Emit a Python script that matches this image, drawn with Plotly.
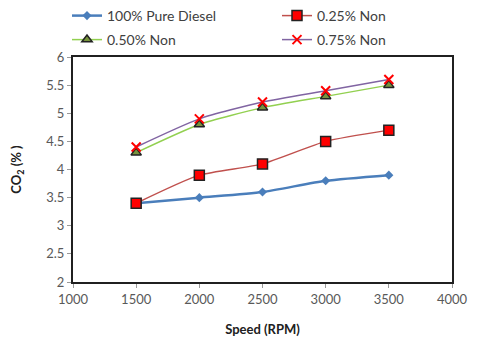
import plotly.graph_objects as go

speed = [1500, 2000, 2500, 3000, 3500]
diesel = [3.4, 3.5, 3.6, 3.8, 3.9]
non025 = [3.4, 3.9, 4.1, 4.5, 4.7]
non050 = [4.3, 4.8, 5.1, 5.3, 5.5]
non075 = [4.4, 4.9, 5.2, 5.4, 5.6]
names = ["100% Pure Diesel", "0.25% Non", "0.50% Non", "0.75% Non"]
x_ticks = [1000, 1500, 2000, 2500, 3000, 3500, 4000]
y_ticks = [2, 2.5, 3, 3.5, 4, 4.5, 5, 5.5, 6]

# page body has an 8px margin; figure is drawn shifted by it
W, H, OFF = 472, 334, 8

fig = go.Figure()
fig.add_trace(go.Scatter(x=speed, y=diesel, name=names[0], mode="lines+markers", legend="legend",
                         line=dict(color="#4A7EBB", width=2.5, shape="spline", smoothing=0.6),
                         marker=dict(symbol="diamond", size=7, color="#4A7EBB")))
fig.add_trace(go.Scatter(x=speed, y=non025, name=names[1], mode="lines+markers", legend="legend2",
                         line=dict(color="#C0504D", width=1.5, shape="spline", smoothing=0.6),
                         marker=dict(symbol="square", size=10, color="#FF0000",
                                     line=dict(color="#222222", width=1.5))))
fig.add_trace(go.Scatter(x=speed, y=non050, name=names[2], mode="lines+markers", legend="legend3",
                         line=dict(color="#92D050", width=1.5, shape="spline", smoothing=0.6),
                         marker=dict(symbol="triangle-up", size=9, color="#77933C",
                                     line=dict(color="#222222", width=1.5))))
fig.add_trace(go.Scatter(x=speed, y=non075, name=names[3], mode="lines+markers", legend="legend4",
                         line=dict(color="#8064A2", width=1.5, shape="spline", smoothing=0.6),
                         marker=dict(symbol="x-thin", size=9, color="#FF0000",
                                     line=dict(color="#FF0000", width=2))))

def leg(xs, ys):
    return dict(orientation="h", xref="container", yref="container",
                x=(xs - OFF - 6) / W, y=1 - (ys - OFF) / H,
                xanchor="left", yanchor="middle",
                font=dict(family="Lato", size=14, color="#404040"),
                itemwidth=30, bgcolor="rgba(0,0,0,0)")

fig.update_layout(
    width=W, height=H,
    margin=dict(l=73 - OFF, r=W + OFF - 452, t=57 - OFF, b=H + OFF - 282, autoexpand=False),
    paper_bgcolor="white", plot_bgcolor="white",
    font=dict(family="Lato", size=13, color="#595959"),
    showlegend=True,
    legend=leg(73, 16),
    legend2=leg(283, 16),
    legend3=leg(73, 40),
    legend4=leg(283, 40),
    xaxis=dict(range=[1000, 4000], tickvals=x_ticks, showgrid=False, zeroline=False,
               showline=True, linecolor="#202020", linewidth=2, mirror=True,
               ticks="outside", ticklen=4, tickcolor="#999999",
               title=dict(text="<b>Speed (RPM)</b>", font=dict(size=13, color="#202020"), standoff=19)),
    yaxis=dict(range=[2, 6], tickvals=y_ticks, showgrid=False, zeroline=False,
               showline=True, linecolor="#202020", linewidth=2, mirror=True,
               ticks="outside", ticklen=4, tickcolor="#999999",
               title=dict(text="<b>CO<sub>2</sub> (% )</b>", font=dict(size=13, color="#202020"), standoff=35)),
)
fig.write_html("out.html")
